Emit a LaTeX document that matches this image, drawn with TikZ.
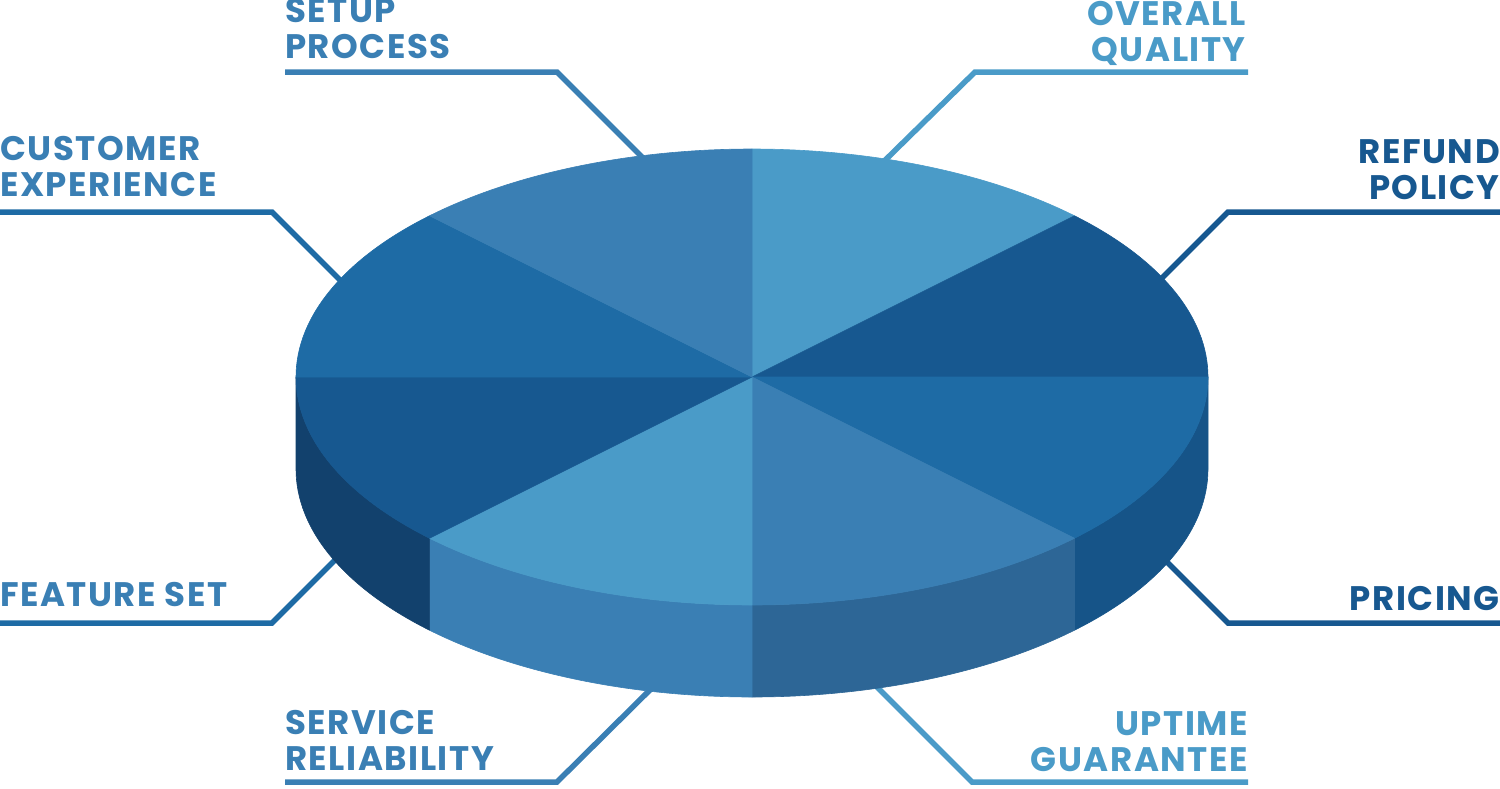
\documentclass[tikz,border=0pt]{standalone}
\usepackage{fontspec}
\usetikzlibrary{calc}
\setmainfont{Poppins}
\newfontfamily\labfont[LetterSpace=4.5]{Poppins}
\definecolor{cL}{HTML}{4A9BC8}
\definecolor{cD}{HTML}{175890}
\definecolor{cM}{HTML}{1E6BA5}
\definecolor{cS}{HTML}{3A7FB4}
\definecolor{sM}{HTML}{165488}
\definecolor{sS}{HTML}{2D6696}
\definecolor{sL}{HTML}{3A7FB4}
\definecolor{sD}{HTML}{12416D}
\begin{document}
\begin{tikzpicture}[x=1pt,y=-1pt,
  lab/.style={font=\labfont\bfseries\fontsize{34}{36}\selectfont, inner sep=0pt, text depth=0pt},
  labl/.style={lab, align=left, anchor=south west},
  labr/.style={lab, align=right, anchor=south east},
  conn/.style={line width=5.5pt, line join=miter},
  topslice/.style={fill=#1, draw=#1, line width=0.6pt, line join=round},
  sideslice/.style={fill=#1, draw=#1, line width=0.6pt, line join=round}]
\useasboundingbox (0,0) rectangle (1500,788);

% labels
\node[labl, text=cS] (setup) at (285,59) {SETUP\\PROCESS};
\node[labr, text=cL] (overall) at (1246,62) {OVERALL\\QUALITY};
\node[labl, text=cS] (customer) at (0,197) {CUSTOMER\\EXPERIENCE};
\node[labr, text=cD] (refund) at (1500,200) {REFUND\\POLICY};
\node[labl, text=cS] (feature) at (0,607) {FEATURE SET};
\node[labr, text=cD] (pricing) at (1500,611) {PRICING};
\node[labl, text=cS] (service) at (285,771) {SERVICE\\RELIABILITY};
\node[labr, text=cL] (uptime) at (1248,772) {UPTIME\\GUARANTEE};

% connector coordinates
\coordinate (setupA) at (285,72);  \coordinate (setupB) at (557,72);  \coordinate (setupC) at (660,175);
\coordinate (overA) at (1248,72);  \coordinate (overB) at (975,72);   \coordinate (overC) at (870,175);
\coordinate (custA) at (0,212);    \coordinate (custB) at (272,212);  \coordinate (custC) at (350,290);
\coordinate (refA) at (1500,212);  \coordinate (refB) at (1228,212);  \coordinate (refC) at (1150,290);
\coordinate (featA) at (0,623);    \coordinate (featB) at (272,623);  \coordinate (featC) at (345,550);
\coordinate (priA) at (1500,623);  \coordinate (priB) at (1228,623);  \coordinate (priC) at (1160,555);
\coordinate (servA) at (285,782);  \coordinate (servB) at (557,782);  \coordinate (servC) at (660,680);
\coordinate (upA) at (1248,782);   \coordinate (upB) at (972,782);    \coordinate (upC) at (870,680);

\draw[conn, cS] (setupA) -- (setupB) -- (setupC);
\draw[conn, cL] (overA) -- (overB) -- (overC);
\draw[conn, cM] (custA) -- (custB) -- (custC);
\draw[conn, cD] (refA) -- (refB) -- (refC);
\draw[conn, cM] (featA) -- (featB) -- (featC);
\draw[conn, cD] (priA) -- (priB) -- (priC);
\draw[conn, cS] (servA) -- (servB) -- (servC);
\draw[conn, cL] (upA) -- (upB) -- (upC);

% pie: centre (752,377), radii 456 x 228, depth 92
\coordinate (pc) at (752,377);
\foreach \a/\b/\c in {0/45/sM, 45/90/sS, 90/135/sL, 135/180/sD}{
  \draw[sideslice=\c] ($(pc)+(\a:456 and 228)$) arc[start angle=\a, end angle=\b, x radius=456, y radius=228]
     -- ++(0,92) arc[start angle=\b, end angle=\a, x radius=456, y radius=228] -- cycle;
}
\foreach \a/\b/\c in {-90/-45/cL, -45/0/cD, 0/45/cM, 45/90/cS, 90/135/cL, 135/180/cD, 180/225/cM, 225/270/cS}{
  \draw[topslice=\c] (pc) -- ($(pc)+(\a:456 and 228)$) arc[start angle=\a, end angle=\b, x radius=456, y radius=228] -- cycle;
}
\end{tikzpicture}
\end{document}
